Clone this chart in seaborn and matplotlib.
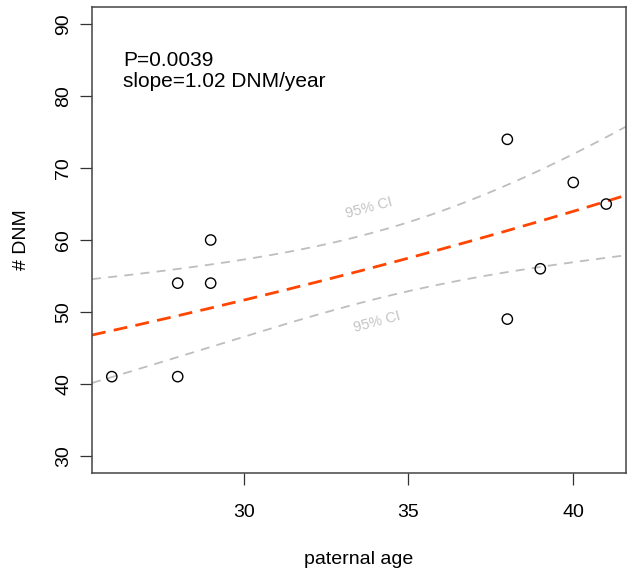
import numpy as np
import pandas as pd
import matplotlib
matplotlib.use("Agg")
import matplotlib.pyplot as plt
import seaborn as sns

# ---- data ----
paternal_age = [26, 28, 28, 29, 29, 38, 38, 39, 40, 41]
dnm_count = [41, 41, 54, 54, 60, 74, 49, 56, 68, 65]
x_ticks = [30, 35, 40]
y_ticks = [30, 40, 50, 60, 70, 80, 90]
annot_lines = ["P=0.0039", "slope=1.02 DNM/year"]
ci_label = "95% CI"

sns.set_theme(style="white")
plt.rcParams["font.family"] = ["Liberation Sans", "DejaVu Sans"]
plt.rcParams["text.color"] = "black"
plt.rcParams["axes.labelcolor"] = "black"

df = pd.DataFrame({"age": paternal_age, "dnm": dnm_count})

# ---- Poisson GLM (log link) fitted by IRLS ----
x = np.asarray(paternal_age, float)
y = np.asarray(dnm_count, float)
X = np.column_stack([np.ones_like(x), x])
beta = np.array([np.log(y.mean()), 0.0])
for _ in range(50):
    eta = X @ beta
    mu = np.exp(eta)
    z = eta + (y - mu) / mu
    XtW = X.T * mu
    beta = np.linalg.solve(XtW @ X, XtW @ z)
mu = np.exp(X @ beta)
cov = np.linalg.inv((X.T * mu) @ X)

xlim = (25.4, 41.6)
ylim = (27.6, 92.4)
xs = np.linspace(xlim[0], xlim[1], 200)
Xs = np.column_stack([np.ones_like(xs), xs])
eta_s = Xs @ beta
se_s = np.sqrt(np.einsum("ij,jk,ik->i", Xs, cov, Xs))
fit = pd.DataFrame({
    "age": xs,
    "fit": np.exp(eta_s),
    "lo": np.exp(eta_s - 1.96 * se_s),
    "hi": np.exp(eta_s + 1.96 * se_s),
})

fig = plt.figure(figsize=(6.33, 5.72), dpi=100)
ax = fig.add_axes([92 / 633, 1 - 473 / 572, (626 - 92) / 633, (473 - 7) / 572])

gray = "#bebebe"
sns.lineplot(data=fit, x="age", y="hi", ax=ax, color=gray, lw=1.3,
             linestyle=(0, (5, 4)))
sns.lineplot(data=fit, x="age", y="lo", ax=ax, color=gray, lw=1.3,
             linestyle=(0, (5, 4)))
sns.lineplot(data=fit, x="age", y="fit", ax=ax, color="#ff4500", lw=2.0,
             linestyle=(0, (5, 3)))
sns.scatterplot(data=df, x="age", y="dnm", ax=ax, s=55, facecolor="none",
                edgecolor="black", linewidth=1.0, zorder=5)

ax.set_xlim(*xlim)
ax.set_ylim(*ylim)
ax.set_xticks(x_ticks)
ax.set_yticks(y_ticks)
ax.set_xticklabels([str(t) for t in x_ticks])
ax.set_yticklabels([str(t) for t in y_ticks], rotation=90, va="center")

ax.tick_params(axis="both", direction="out", length=8.6, width=0.9,
               color="#333333", labelsize=14, labelcolor="black",
               bottom=True, left=True)
ax.tick_params(axis="x", pad=14)
ax.tick_params(axis="y", pad=5.5)

for s in ax.spines.values():
    s.set_color("#444444")
    s.set_linewidth(1.1)

ax.set_xlabel("paternal age", fontsize=14, labelpad=21.5, color="black")
ax.set_ylabel("# DNM", fontsize=14, labelpad=18, color="black")

ax.text(26.35, 84.2, annot_lines[0], fontsize=15, va="baseline", ha="left",
        color="black")
ax.text(26.35, 81.3, annot_lines[1], fontsize=15, va="baseline", ha="left",
        color="black")

ax.text(33.8, 64.4, ci_label, fontsize=10.5, color="#c4c4c4", rotation=15,
        ha="center", va="center", rotation_mode="anchor")
ax.text(34.05, 48.6, ci_label, fontsize=10.5, color="#c4c4c4", rotation=15,
        ha="center", va="center", rotation_mode="anchor")

fig.savefig("out.png", dpi=100)
